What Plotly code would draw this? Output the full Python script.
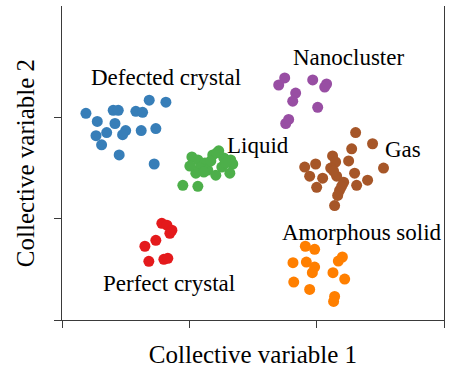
import plotly.graph_objects as go

# cluster points (arbitrary CV units)
defected_x = [0.188, 0.277, 0.402, 0.442, 0.416, 0.580, 0.633, 0.685, 0.816, 0.351,
              0.500, 0.476, 0.267, 0.311, 0.622, 0.737, 0.449, 0.724]
defected_y = [2.04, 1.96, 2.07, 2.07, 1.94, 2.06, 2.05, 2.17, 2.15, 1.85,
              1.87, 1.83, 1.82, 1.73, 1.87, 1.89, 1.63, 1.54]

liquid_x = [1.020, 1.067, 1.122, 1.184, 1.231, 1.271, 1.325, 1.341, 1.082, 1.145, 1.208,
            1.318, 1.051, 1.004, 1.169, 1.255, 0.949, 1.067, 1.286, 1.216, 1.114]
liquid_y = [1.61, 1.58, 1.55, 1.63, 1.67, 1.60, 1.58, 1.54, 1.50, 1.48, 1.43,
            1.45, 1.45, 1.52, 1.57, 1.51, 1.33, 1.32, 1.55, 1.65, 1.46]

nano_x = [1.749, 1.702, 1.969, 2.078, 2.063, 1.835, 1.812, 2.008, 1.780, 1.757]
nano_y = [2.39, 2.32, 2.37, 2.33, 2.30, 2.24, 2.16, 2.10, 1.98, 1.94]

gas_x = [2.306, 2.439, 2.275, 2.525, 2.125, 2.149, 1.992, 1.906, 2.251, 2.110, 1.945, 2.047,
         2.157, 2.298, 2.212, 2.000, 2.180, 2.314, 2.400, 2.165, 2.141, 2.196, 2.133]
gas_y = [1.85, 1.74, 1.69, 1.50, 1.62, 1.56, 1.54, 1.51, 1.57, 1.50, 1.42, 1.40,
         1.42, 1.45, 1.36, 1.31, 1.28, 1.33, 1.38, 1.23, 1.13, 1.32, 1.47]

perfect_x = [0.784, 0.824, 0.863, 0.847, 0.737, 0.651, 0.682, 0.800, 0.831]
perfect_y = [0.955, 0.936, 0.886, 0.856, 0.787, 0.728, 0.579, 0.599, 0.609]

amorph_x = [1.911, 1.984, 1.814, 1.919, 1.984, 1.966, 2.202, 2.170, 2.128, 2.220,
            1.820, 1.945, 2.141, 2.133]
amorph_y = [0.728, 0.698, 0.566, 0.572, 0.523, 0.467, 0.622, 0.582, 0.467, 0.404,
            0.374, 0.302, 0.233, 0.183]

# (label, x, y, anchor)
labels = [
    ("Defected crystal", 0.816, 2.39, "center"),
    ("Nanocluster", 2.247, 2.59, "center"),
    ("Liquid", 1.278, 1.72, "left"),
    ("Gas", 2.518, 1.68, "left"),
    ("Amorphous solid", 1.71, 0.866, "left"),
    ("Perfect crystal", 0.839, 0.361, "center"),
]

SERIF = "Liberation Serif"

fig = go.Figure()

groups = [
    (defected_x, defected_y, "#377eb8"),
    (liquid_x, liquid_y, "#4daf4a"),
    (nano_x, nano_y, "#984ea3"),
    (gas_x, gas_y, "#a65628"),
    (perfect_x, perfect_y, "#e41a1c"),
    (amorph_x, amorph_y, "#ff7f00"),
]
for xs, ys, col in groups:
    fig.add_trace(go.Scatter(x=xs, y=ys, mode="markers",
                             marker=dict(size=11, color=col, line=dict(width=0)),
                             showlegend=False, hoverinfo="skip"))

for text, x, y, anchor in labels:
    fig.add_annotation(x=x, y=y, text=text, showarrow=False, xanchor=anchor,
                       yanchor="middle", font=dict(family=SERIF, size=23, color="black"))

axis_style = dict(showgrid=False, zeroline=False, showline=True, linecolor="#3a3a3a",
                  linewidth=1.3, ticks="outside", ticklen=7, tickcolor="#3a3a3a",
                  tickwidth=1.3, showticklabels=False, automargin=False)

fig.update_xaxes(range=[0, 3], tickvals=[0, 1, 2, 3],
                 title=dict(text="Collective variable 1", standoff=18,
                            font=dict(family=SERIF, size=25, color="black")),
                 **axis_style)
fig.update_yaxes(range=[0, 3.1], tickvals=[0, 1, 2], mirror=True,
                 title=dict(text="Collective variable 2", standoff=12,
                            font=dict(family=SERIF, size=25, color="black")),
                 **axis_style)

fig.update_layout(width=456, height=370, margin=dict(l=62, r=12, t=6, b=50),
                  plot_bgcolor="white", paper_bgcolor="white")

# drop the page's default 8px body margin so the figure sits at the window corner
fig.write_html("out.html", config={"displayModeBar": False},
               post_script="document.body.style.margin='0';")
